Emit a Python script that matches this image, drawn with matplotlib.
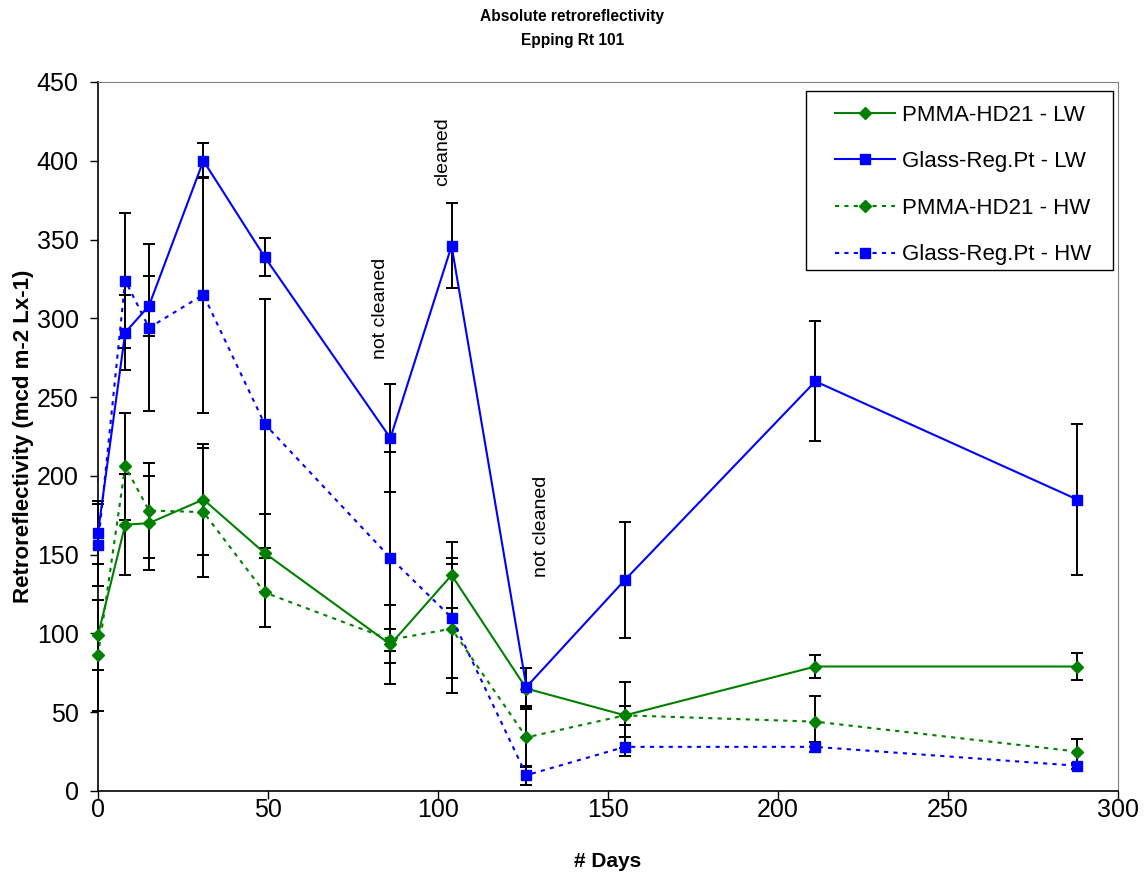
import matplotlib
matplotlib.use("Agg")
import matplotlib.pyplot as plt
from matplotlib.patches import Rectangle

plt.rcParams["font.family"] = ["Liberation Sans", "DejaVu Sans"]

# ── data ──────────────────────────────────────────────────────────────────────
days = [0, 8, 15, 31, 49, 86, 104, 126, 155, 211, 288]

pmma_lw = [99, 169, 170, 185, 151, 93, 137, 65, 48, 79, 79]
pmma_lw_err = [22, 32, 30, 35, 25, 25, 21, 13, 21, 7.5, 8.5]

glass_lw = [164, 291, 308, 400, 339, 224, 346, 66, 134, 260, 185]
glass_lw_err = [20, 24, 19, 11, 12, 34, 27, 12, 37, 38, 48]

pmma_hw = [86, 206, 178, 177, 126, 96, 103, 34, 48, 44, 25]
pmma_hw_err = [35, 34, 30, 41, 22, 7, 41, 19, 6, 16, 8]

glass_hw = [156, 324, 294, 315, 233, 148, 110, 10, 28, 28, 16]
glass_hw_err = [26, 43, 53, 75, 79, 67, 38, 6, 6, 3, 2]

series = [
    ("PMMA-HD21 - LW", pmma_lw, pmma_lw_err, "#008000", "D", "-"),
    ("Glass-Reg.Pt - LW", glass_lw, glass_lw_err, "#0000FF", "s", "-"),
    ("PMMA-HD21 - HW", pmma_hw, pmma_hw_err, "#008000", "D", (0, (2, 2.5))),
    ("Glass-Reg.Pt - HW", glass_hw, glass_hw_err, "#0000FF", "s", (0, (2, 2.5))),
]

notes = [("not cleaned", 83, 306), ("cleaned", 101.5, 406), ("not cleaned", 130.5, 168)]

# ── figure ────────────────────────────────────────────────────────────────────
fig = plt.figure(figsize=(11.45, 8.77), dpi=100)
ax = fig.add_axes([0.0856, 0.0981, 0.8908, 0.8084])

for label, vals, err, color, marker, ls in series:
    ax.errorbar(days, vals, yerr=err, fmt="none", ecolor="black",
                elinewidth=1.4, capsize=4.5, capthick=1.4, zorder=2, clip_on=False)
for label, vals, err, color, marker, ls in series:
    ax.plot(days, vals, color=color, linestyle=ls, linewidth=1.5,
            marker=marker, markersize=7 if marker == "s" else 6.5,
            markeredgecolor=color, label=label, zorder=3, clip_on=False)

for text, x, y in notes:
    ax.text(x, y, text, rotation=90, ha="center", va="center", fontsize=14)

ax.set_xlim(0, 300)
ax.set_ylim(0, 450)
ax.set_xticks(range(0, 301, 50))
ax.set_yticks(range(0, 451, 50))
ax.tick_params(labelsize=18, direction="out", length=6, width=1)
ax.tick_params(axis="y", pad=8)
ax.tick_params(axis="x", pad=-1)

for side in ["top", "right"]:
    ax.spines[side].set_color("#808080")
for side in ["left", "bottom"]:
    ax.spines[side].set_color("black")
    ax.spines[side].set_linewidth(1.2)

ax.set_xlabel("# Days", fontsize=15, fontweight="bold", labelpad=22)
ax.set_ylabel("Retroreflectivity (mcd m-2 Lx-1)", fontsize=16, fontweight="bold", labelpad=2)
fig.suptitle("Absolute retroreflectivity\nEpping Rt 101", fontsize=11.2, fontweight="bold",
             y=0.99, linespacing=1.75)

# legend: Excel-style box, wider horizontal padding than vertical
ax.add_patch(Rectangle((0.694, 0.735), 0.301, 0.252, transform=ax.transAxes,
                       facecolor="white", edgecolor="black", linewidth=1.0, zorder=4))
leg = ax.legend(loc="upper left", bbox_to_anchor=(0.7225, 0.968), fontsize=16,
                frameon=False, borderpad=0, borderaxespad=0,
                labelspacing=1.15, handlelength=2.7, handletextpad=0.3)
leg.set_zorder(5)

fig.savefig("out.png", dpi=100)
